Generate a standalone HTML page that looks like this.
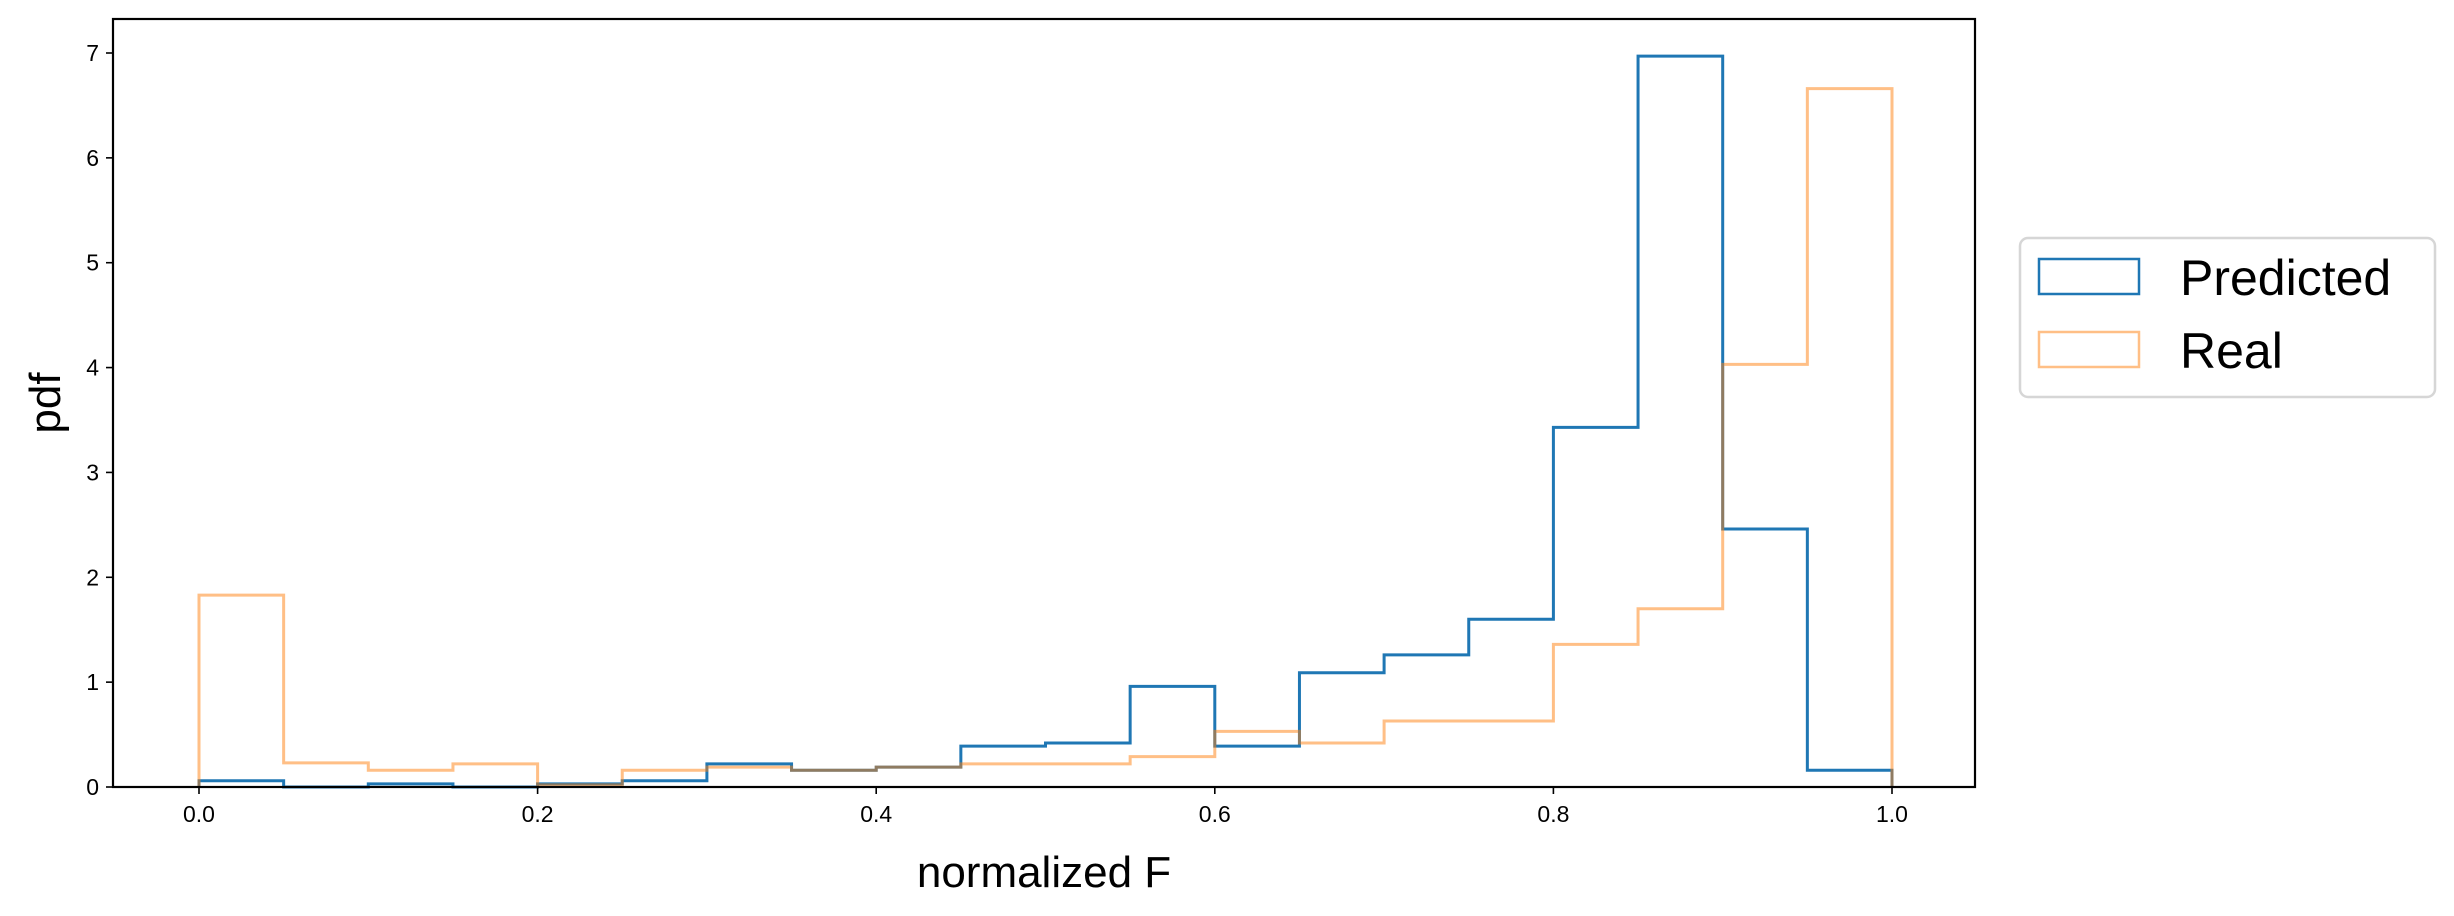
<!DOCTYPE html>
<html><head><meta charset="utf-8"><style>
html,body{margin:0;padding:0;background:#fff;}
svg{display:block;font-family:"Liberation Sans",sans-serif;}
</style></head><body>
<svg id="chart" width="2454" height="916" viewBox="0 0 2454 916" xmlns="http://www.w3.org/2000/svg">
<g id="plot"></g>
</svg>
<script>
const binEdges = [0,0.05,0.1,0.15,0.2,0.25,0.3,0.35,0.4,0.45,0.5,0.55,0.6,0.65,0.7,0.75,0.8,0.85,0.9,0.95,1.0];
const predicted = [0.06,0,0.03,0,0.03,0.06,0.22,0.16,0.19,0.39,0.42,0.96,0.39,1.09,1.26,1.6,3.43,6.97,2.46,0.16];
const real = [1.83,0.23,0.16,0.22,0.02,0.16,0.19,0.16,0.19,0.22,0.22,0.29,0.53,0.42,0.63,0.63,1.36,1.70,4.03,6.66];
const xTicks = [0,0.2,0.4,0.6,0.8,1.0];
const xTickLabels = ["0.0","0.2","0.4","0.6","0.8","1.0"];
const yTicks = [0,1,2,3,4,5,6,7];

const L=113,R=1975,T=19,B=787;
const X0=199,X1=1892;
const sx=v=>X0+(X1-X0)*v;
const sy=v=>B-(B-53)*v/7;
const NS="http://www.w3.org/2000/svg";
const g=document.getElementById('plot');
function mk(t,a){const e=document.createElementNS(NS,t);for(const k in a)e.setAttribute(k,a[k]);g.appendChild(e);return e;}

function stepPath(vals){
  let d=`M${sx(binEdges[0])},${sy(0)}`;
  vals.forEach((v,i)=>{d+=` L${sx(binEdges[i])},${sy(v)} L${sx(binEdges[i+1])},${sy(v)}`;});
  d+=` L${sx(binEdges[binEdges.length-1])},${sy(0)}`;
  return d;
}
let p1=mk('path',{d:stepPath(predicted),fill:'none',stroke:'#1f77b4','stroke-width':3});


let p2=mk('path',{d:stepPath(real),fill:'none',stroke:'#ff7f0e','stroke-opacity':0.5,'stroke-width':3});



let fr=mk('rect',{x:L,y:T,width:R-L,height:B-T,fill:'none',stroke:'#000','stroke-width':2.2});



xTicks.forEach((v,i)=>{
  let t=mk('line',{x1:sx(v),x2:sx(v),y1:B,y2:B+7,stroke:'#000','stroke-width':1.6});
  
  
  let tx=mk('text',{x:sx(v),y:B+35,'font-size':23,'text-anchor':'middle',fill:'#000'});
  tx.textContent=xTickLabels[i];
  
  
});
yTicks.forEach(v=>{
  let t=mk('line',{x1:L-7,x2:L,y1:sy(v),y2:sy(v),stroke:'#000','stroke-width':1.6});
  
  
  let tx=mk('text',{x:L-14,y:sy(v)+8,'font-size':23,'text-anchor':'end',fill:'#000'});
  tx.textContent=String(v);
  
  
});
let xl=mk('text',{x:(L+R)/2,y:887,'font-size':44,'text-anchor':'middle',fill:'#000'});
xl.textContent='normalized F';


let yl=mk('text',{x:0,y:0,'font-size':44,'text-anchor':'middle',fill:'#000',transform:`translate(60,${(T+B)/2}) rotate(-90)`});
yl.textContent='pdf';



let lg=mk('rect',{x:2020,y:238,width:415,height:159,rx:8,fill:'#fff',stroke:'#d6d6d6','stroke-width':2.5});


let h1=mk('rect',{x:2039,y:259,width:100,height:35,fill:'none',stroke:'#1f77b4','stroke-width':2.5});


let t1=mk('text',{x:2180,y:295,'font-size':50,fill:'#000'});
t1.textContent='Predicted';


let h2=mk('rect',{x:2039,y:332,width:100,height:35,fill:'none',stroke:'#ff7f0e','stroke-opacity':0.5,'stroke-width':2.5});


let t2=mk('text',{x:2180,y:368,'font-size':50,fill:'#000'});
t2.textContent='Real';


</script>
</body></html>
